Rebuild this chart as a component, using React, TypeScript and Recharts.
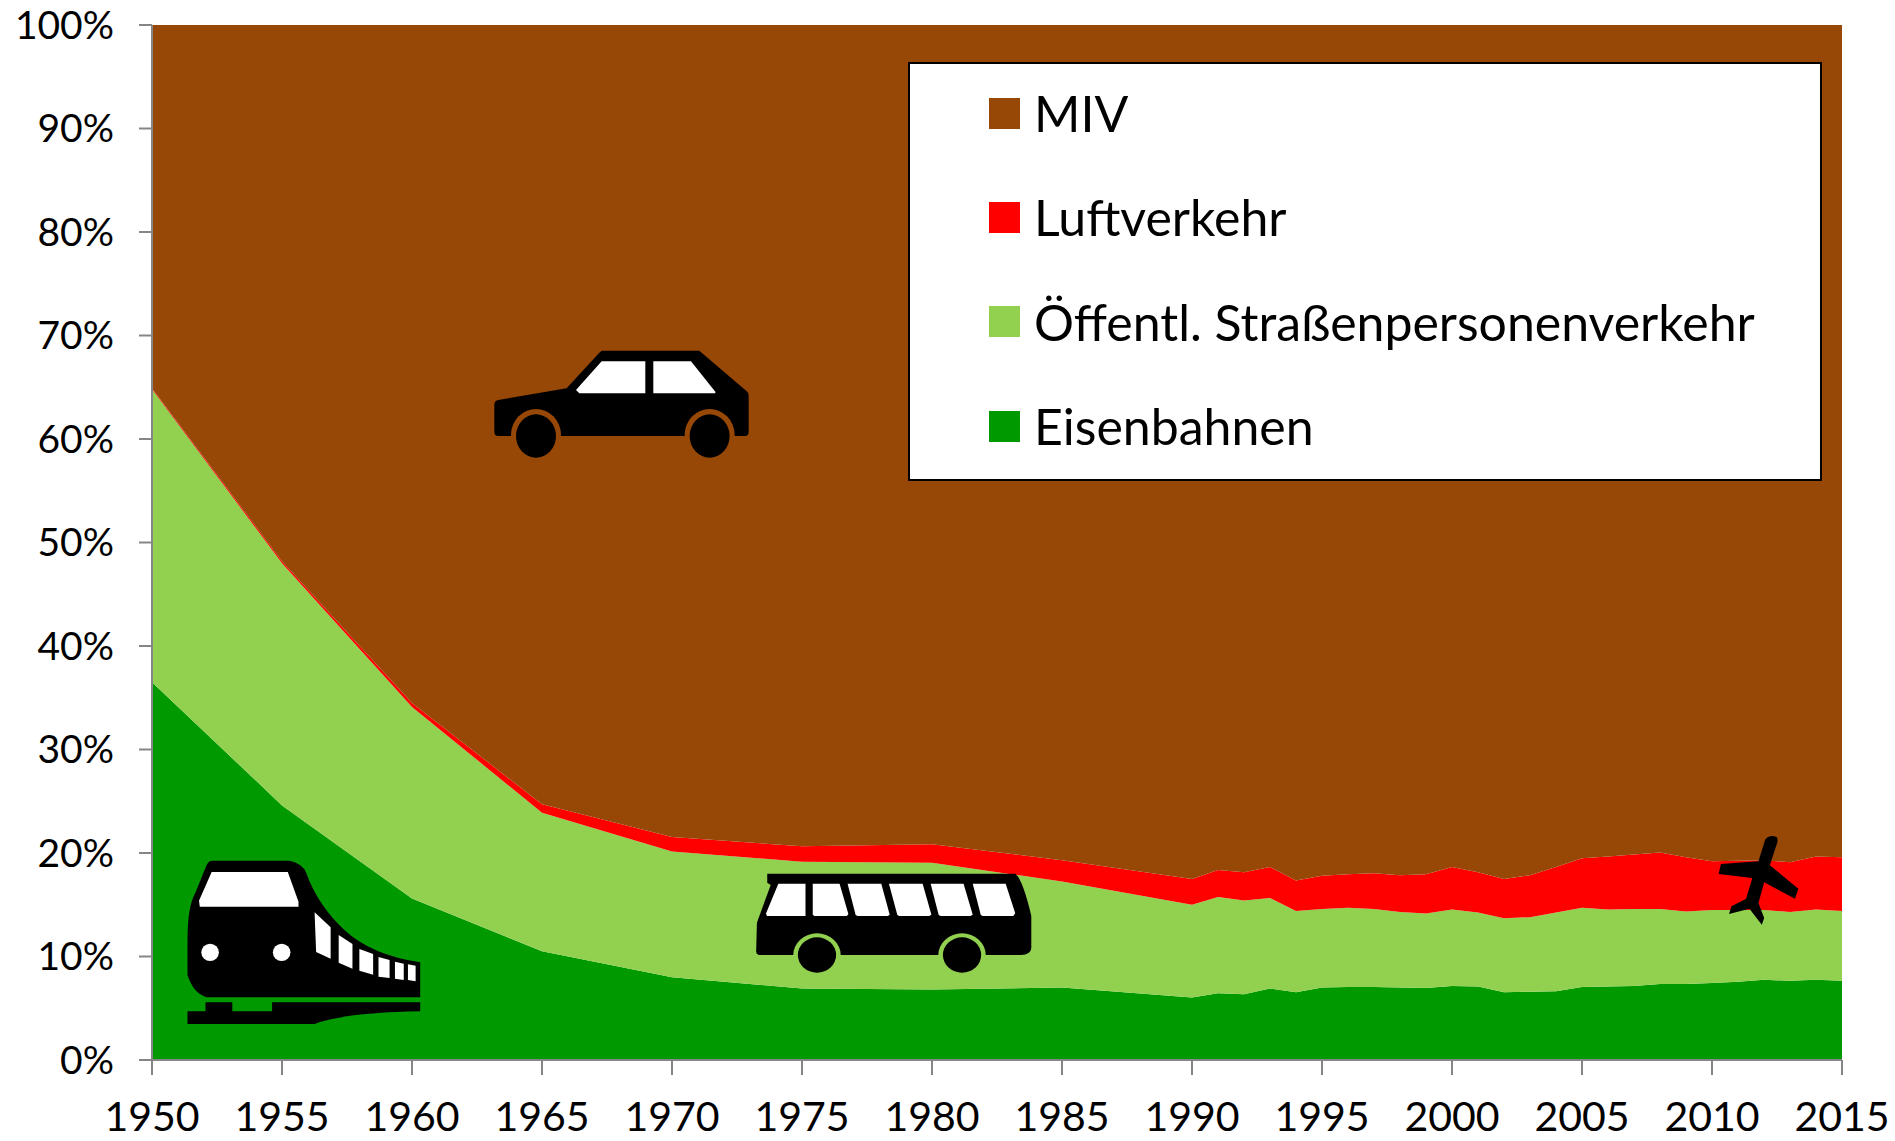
import React from "react";
import { AreaChart, Area, XAxis, YAxis, Legend } from "recharts";

const years = [1950, 1955, 1960, 1965, 1970, 1975, 1980, 1985, 1990, 1991, 1992, 1993, 1994, 1995, 1996, 1997, 1998, 1999, 2000, 2001, 2002, 2003, 2004, 2005, 2006, 2007, 2008, 2009, 2010, 2011, 2012, 2013, 2014, 2015];
const eisenbahnen = [36.5, 24.6, 15.6, 10.5, 8.0, 6.9, 6.8, 7.0, 6.05, 6.45, 6.35, 6.9, 6.55, 7.0, 7.05, 7.05, 7.0, 6.95, 7.15, 7.1, 6.55, 6.6, 6.65, 7.05, 7.1, 7.15, 7.35, 7.35, 7.45, 7.55, 7.75, 7.65, 7.75, 7.65];
const oepnv = [28.3, 23.4, 18.5, 13.4, 12.15, 12.25, 12.25, 10.25, 8.95, 9.3, 9.05, 8.75, 7.85, 7.6, 7.65, 7.55, 7.3, 7.2, 7.4, 7.15, 7.15, 7.2, 7.6, 7.65, 7.45, 7.45, 7.25, 7.0, 7.05, 6.95, 6.75, 6.65, 6.8, 6.75];
const luftverkehr = [0.1, 0.2, 0.4, 0.8, 1.4, 1.5, 1.8, 2.05, 2.5, 2.6, 2.75, 3.0, 2.95, 3.2, 3.25, 3.45, 3.55, 3.8, 4.1, 3.9, 3.8, 4.05, 4.4, 4.8, 5.1, 5.25, 5.45, 5.25, 4.7, 4.75, 4.8, 4.8, 5.1, 5.2];
const miv = [35.1, 51.8, 65.5, 75.3, 78.45, 79.35, 79.15, 80.7, 82.5, 81.65, 81.85, 81.35, 82.65, 82.2, 82.05, 81.95, 82.15, 82.05, 81.35, 81.85, 82.5, 82.15, 81.35, 80.5, 80.35, 80.15, 79.95, 80.4, 80.8, 80.75, 80.7, 80.9, 80.35, 80.4];

const xTicks = [1950, 1955, 1960, 1965, 1970, 1975, 1980, 1985, 1990, 1995, 2000, 2005, 2010, 2015];
const yTicks = [0, 10, 20, 30, 40, 50, 60, 70, 80, 90, 100];

const data = years.map((year, i) => ({
  year,
  eisenbahnen: eisenbahnen[i],
  oepnv: oepnv[i],
  luftverkehr: luftverkehr[i],
  miv: miv[i],
}));

const BROWN = "#974706";
const RED = "#FF0000";
const LIGHT = "#92D050";
const GREEN = "#009900";
const AXIS = "#868686";
const FONT = "Lato, sans-serif";

function renderLegend({ payload }: any) {
  const items = [...(payload || [])].reverse();
  return (
    <div style={{ position: "relative", width: 914, height: 419, boxSizing: "border-box", background: "#fff", border: "2px solid #000", fontFamily: FONT }}>
      {items.map((item: any, i: number) => (
        <div key={item.value} style={{ position: "absolute", left: 79, top: 30 + i * 104.4, height: 38, display: "flex", alignItems: "center", whiteSpace: "nowrap" }}>
          <span style={{ display: "inline-block", width: 31, height: 31, background: item.color, marginRight: 14 }} />
          <span style={{ fontSize: 50, color: "#000", lineHeight: "38px" }}>{item.value}</span>
        </div>
      ))}
    </div>
  );
}

// Pictograms, drawn in crop coordinates of the reference and scaled back
function Icons() {
  const win = { fill: "#fff" };
  return (
    <svg width={1895} height={1141} style={{ position: "absolute", left: 0, top: 0, pointerEvents: "none" }}>
      <g transform="translate(0,780) scale(0.3827,0.3333)">
        <path d="M555 242 L757 242 Q790 250 800 278 Q830 375 900 450 Q970 525 1098 547 L1098 652 L540 652 Q505 640 490 585 L490 480 Q490 380 510 340 L540 255 Q545 242 555 242 Z" />
        <path {...win} d="M553 276 L752 276 L780 365 L780 380 L522 380 L520 362 Z" />
        <ellipse {...win} cx={549} cy={517} rx={23} ry={26} />
        <ellipse {...win} cx={736} cy={517} rx={23} ry={26} />
        <polygon {...win} points="822,397 864,442 864,536 826,516" />
        <polygon {...win} points="885,465 921,492 921,566 885,548" />
        <polygon {...win} points="939,507 975,522 975,584 939,572" />
        <polygon {...win} points="989,531 1018,540 1018,594 989,590" />
        <polygon {...win} points="1032,545 1055,551 1055,600 1032,596" />
        <polygon {...win} points="1066,553 1086,557 1086,604 1066,600" />
        <path d="M537 667 L607 667 L607 694 L711 694 L711 667 L1098 667 L1098 694 Q900 698 822 732 L490 732 L490 694 L537 694 Z" />
      </g>
      <g transform="translate(600,780) scale(0.3827,0.3333)">
        <path d="M437 281 L1085 281 Q1105 300 1127 408 L1127 505 Q1125 525 1100 525 L415 525 Q408 522 408 515 L410 428 L446 315 L437 308 Z" />
        <polygon {...win} points="466,311 537,311 537,408 436,408 434,400" />
        <polygon {...win} points="556,311 626,311 649,402 645,408 560,408 556,404" />
        <polygon {...win} points="647,311 735,311 757,404 752,408 673,408 668,405" />
        <polygon {...win} points="755,311 843,311 866,404 860,408 782,408 777,405" />
        <polygon {...win} points="864,311 950,311 974,404 968,408 890,408 885,405" />
        <polygon {...win} points="974,311 1060,311 1085,400 1080,408 1000,408 995,405" />
        <ellipse cx={567} cy={525} rx={62} ry={65} fill={LIGHT} />
        <ellipse cx={946} cy={525} rx={62} ry={65} fill={LIGHT} />
        <ellipse cx={567} cy={525} rx={50} ry={53} />
        <ellipse cx={946} cy={525} rx={50} ry={53} />
      </g>
      <g transform="translate(460,330) scale(0.3333,0.3333)">
        <path d="M425 62 L718 62 L862 185 Q866 190 866 195 L866 305 Q866 318 855 318 L115 318 Q103 318 103 305 L103 225 Q103 212 115 210 L320 175 L418 68 Z" />
        <polygon {...win} points="425,94 556,94 556,190 358,190 348,180" />
        <polygon {...win} points="580,94 693,94 766,185 766,190 580,190" />
        <ellipse cx={228} cy={315} rx={75} ry={78} fill={BROWN} />
        <ellipse cx={749} cy={315} rx={75} ry={78} fill={BROWN} />
        <ellipse cx={228} cy={318} rx={60} ry={65} />
        <ellipse cx={749} cy={318} rx={60} ry={65} />
      </g>
      <g transform="translate(1150,778) scale(0.475,0.3333)">
        <path d="M1295 185 Q1305 168 1320 178 Q1323 190 1318 205 L1305 262 L1365 332 L1358 362 L1293 313 L1281 375 L1293 420 L1288 440 L1262 392 L1219 408 L1224 385 L1255 362 L1268 300 L1197 288 L1202 258 L1281 250 Z" />
      </g>
    </svg>
  );
}

export default function App() {
  const axisStyle = { stroke: AXIS, strokeWidth: 2 };
  return (
    <div style={{ position: "absolute", left: 0, top: 0, width: 1895, height: 1141, background: "#fff" }}>
      <AreaChart width={1895} height={1141} data={data} margin={{ top: 25, right: 53, left: 0, bottom: 0 }}>
        <XAxis
          dataKey="year"
          type="number"
          domain={[1950, 2015]}
          ticks={xTicks}
          interval={0}
          height={81}
          tick={{ fill: "#000", fontSize: 41, fontFamily: FONT }}
          tickSize={15}
          tickMargin={27}
          axisLine={axisStyle}
          tickLine={axisStyle}
        />
        <YAxis
          domain={[0, 100]}
          ticks={yTicks}
          interval={0}
          width={152}
          tick={{ fill: "#000", fontSize: 39, fontFamily: FONT }}
          tickSize={13}
          tickMargin={25}
          tickFormatter={(v: number) => `${v}%`}
          axisLine={axisStyle}
          tickLine={axisStyle}
        />
        <Area dataKey="eisenbahnen" name="Eisenbahnen" stackId="a" type="linear" fill={GREEN} fillOpacity={1} stroke="none" isAnimationActive={false} />
        <Area dataKey="oepnv" name="Öffentl. Straßenpersonenverkehr" stackId="a" type="linear" fill={LIGHT} fillOpacity={1} stroke="none" isAnimationActive={false} />
        <Area dataKey="luftverkehr" name="Luftverkehr" stackId="a" type="linear" fill={RED} fillOpacity={1} stroke="none" isAnimationActive={false} />
        <Area dataKey="miv" name="MIV" stackId="a" type="linear" fill={BROWN} fillOpacity={1} stroke="none" isAnimationActive={false} />
        <Legend
          layout="horizontal"
          align="center"
          verticalAlign="middle"
          itemSorter={null}
          content={renderLegend}
          wrapperStyle={{ left: 908, top: 62, width: 914, height: 419 }}
        />
      </AreaChart>
      <Icons />
    </div>
  );
}
